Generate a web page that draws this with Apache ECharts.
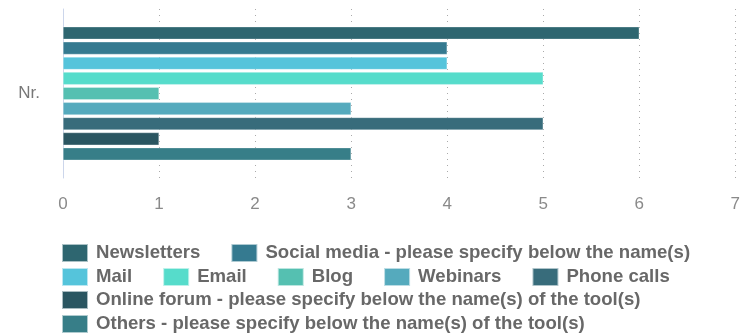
<!DOCTYPE html>
<html>
<head>
<meta charset="utf-8">
<script src="https://cdn.jsdelivr.net/npm/echarts@6/dist/echarts.min.js"></script>
<style>
  html, body { margin: 0; padding: 0; background: #fff; }
  #chart { width: 743px; height: 335px; }
</style>
</head>
<body>
<div id="chart"></div>
<script>
// Communication tools, counts per channel
var categories = ['Nr.'];
var seriesNames = [
  'Newsletters',
  'Social media - please specify below the name(s)',
  'Mail',
  'Email',
  'Blog',
  'Webinars',
  'Phone calls',
  'Online forum - please specify below the name(s) of the tool(s)',
  'Others - please specify below the name(s) of the tool(s)'
];
var seriesValues = [6, 4, 4, 5, 1, 3, 5, 1, 3];
var seriesColors = ['#2e6670', '#357a90', '#55c4db', '#56dccb', '#55c0b1', '#55aabd', '#386c7b', '#2b5661', '#377e88'];
var xTicks = [0, 1, 2, 3, 4, 5, 6, 7];

// legend rows (indices into seriesNames)
var legendRows = [[0, 1], [2, 3, 4, 5, 6], [7], [8]];
var legendTops = [243, 267, 290, 314];

var chart = echarts.init(document.getElementById('chart'));

var series = seriesNames.map(function (name, i) {
  return {
    name: name,
    type: 'bar',
    data: [seriesValues[i]],
    barCategoryGap: '21%',
    barGap: '20%',
    itemStyle: { color: seriesColors[i], borderColor: 'rgba(255,255,255,0.6)', borderWidth: 0.5 },
    emphasis: { disabled: true }
  };
});

var legends = legendRows.map(function (row, r) {
  return {
    data: row.map(function (i) { return seriesNames[i]; }),
    left: 61,
    top: legendTops[r],
    padding: 0,
    orient: 'horizontal',
    itemWidth: 26,
    itemHeight: 18,
    itemGap: 30,
    icon: 'rect',
    selectedMode: false,
    textStyle: {
      fontFamily: 'Liberation Sans, Arial, sans-serif',
      fontSize: 18.6,
      fontWeight: 'bold',
      color: '#686868',
      padding: [0, 0, 0, 3]
    }
  };
});

chart.setOption({
  animation: false,
  grid: { left: 63, right: 7, top: 9, bottom: 157, containLabel: false },
  legend: legends,
  xAxis: {
    type: 'value',
    min: xTicks[0],
    max: xTicks[xTicks.length - 1],
    interval: 1,
    axisLine: { show: false },
    axisTick: { show: false },
    axisLabel: {
      margin: 18,
      fontFamily: 'Liberation Sans, Arial, sans-serif',
      fontSize: 17,
      color: '#8a8a8a'
    },
    splitLine: {
      show: true,
      lineStyle: { color: '#aaaaaa', width: 1, type: [1, 5] }
    }
  },
  yAxis: {
    type: 'category',
    data: categories,
    inverse: true,
    axisLine: { show: true, lineStyle: { color: '#ccd6eb', width: 1 } },
    axisTick: { show: false },
    axisLabel: {
      margin: 23,
      fontFamily: 'Liberation Sans, Arial, sans-serif',
      fontSize: 17,
      color: '#777777',
      padding: [8, 0, 0, 0]
    },
    splitLine: { show: false }
  },
  series: series
});
</script>
</body>
</html>
